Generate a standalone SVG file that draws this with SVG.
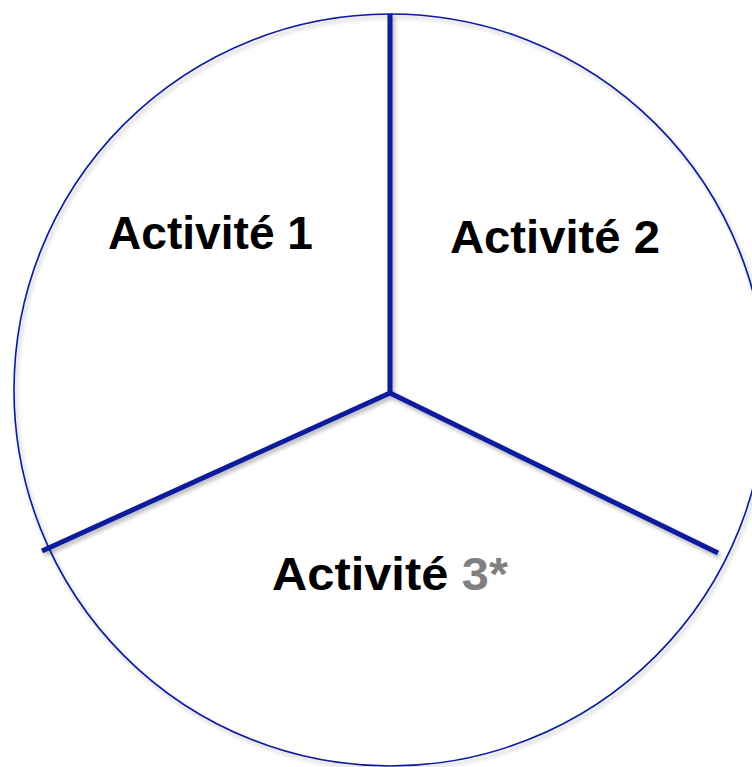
<svg xmlns="http://www.w3.org/2000/svg" width="752" height="767" viewBox="0 0 752 767">
<defs>
<filter id="sh" x="-10%" y="-10%" width="120%" height="120%">
<feGaussianBlur in="SourceAlpha" stdDeviation="2"/>
<feOffset dx="2" dy="3" result="b"/>
<feComponentTransfer><feFuncA type="linear" slope="0.3"/></feComponentTransfer>
<feMerge><feMergeNode/><feMergeNode in="SourceGraphic"/></feMerge>
</filter>
<style>
.circ{fill:none;stroke:#0a1a9c;stroke-width:1.6}
.div{stroke:#0a1a9c;stroke-width:5;fill:none;stroke-linecap:butt}
.lbl{font-family:"Liberation Sans",Arial,sans-serif;font-weight:bold;font-size:47px;fill:#000}
.gr{fill:#808080}
</style>
</defs>
<rect width="752" height="767" fill="#fff"/>
<g id="circle" filter="url(#sh)">
<circle class="circ" cx="390" cy="390" r="376"/>
</g>
<g id="connectors" filter="url(#sh)">
<line class="div" x1="390" y1="14" x2="390" y2="393"/>
<polyline class="div" points="42,551 390,393 718,553"/>
</g>
<g id="node-activite-1">
<text class="lbl" x="108" y="249" textLength="205" lengthAdjust="spacingAndGlyphs">Activité 1</text>
</g>
<g id="node-activite-2">
<text class="lbl" x="450" y="253" textLength="210" lengthAdjust="spacingAndGlyphs">Activité 2</text>
</g>
<g id="node-activite-3">
<text class="lbl" x="272" y="590" textLength="236" lengthAdjust="spacingAndGlyphs">Activité <tspan class="gr">3*</tspan></text>
</g>
</svg>
